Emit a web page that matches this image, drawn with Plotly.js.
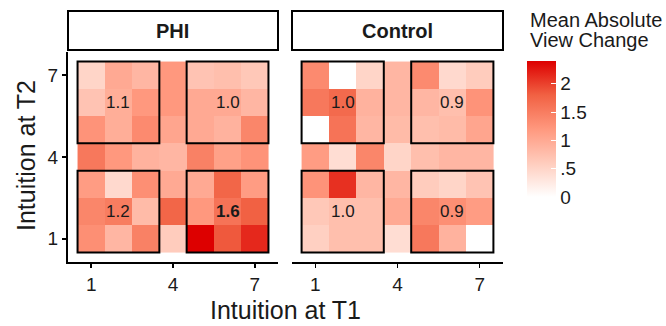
<!DOCTYPE html>
<html>
<head>
<meta charset="utf-8">
<script src="https://cdn.plot.ly/plotly-3.0.1.min.js"></script>
<style>html,body{margin:0;padding:0;background:#fff;}#chart{width:666px;height:326px;}</style>
</head>
<body>
<div id="chart"></div>
<script>
// Intuition levels
var t1Levels = [1, 2, 3, 4, 5, 6, 7];
var t2Levels = [7, 6, 5, 4, 3, 2, 1]; // rows listed top to bottom

// Mean absolute view change, rows = Intuition at T2 (7 -> 1), cols = Intuition at T1 (1 -> 7)
var phiValues = [
  [0.50, 1.00, 0.85, 1.20, 0.70, 0.75, 0.65],
  [0.70, 0.95, 1.20, 1.20, 1.00, 1.00, 0.85],
  [1.25, 0.95, 1.35, 1.05, 1.00, 0.90, 1.40],
  [1.55, 1.20, 0.90, 0.85, 1.45, 1.10, 1.25],
  [1.15, 0.45, 1.30, 1.00, 1.00, 1.75, 1.15],
  [1.40, 1.50, 0.80, 1.75, 1.20, 1.60, 1.80],
  [1.30, 0.85, 1.45, 0.60, 2.40, 1.85, 2.15]
];
var controlValues = [
  [1.35, 0.00, 0.50, 0.85, 1.35, 0.45, 0.60],
  [1.55, 1.70, 0.90, 0.85, 0.85, 0.75, 1.25],
  [0.00, 1.60, 0.85, 0.80, 0.75, 0.80, 1.05],
  [1.15, 0.40, 1.40, 0.50, 0.75, 0.85, 0.85],
  [1.25, 2.10, 0.85, 0.85, 0.60, 0.50, 0.70],
  [0.65, 0.75, 0.75, 1.00, 1.40, 1.30, 1.15],
  [0.55, 0.75, 0.75, 0.40, 1.55, 0.90, 0.00]
];

// Quadrant means (top-left, top-right, bottom-left, bottom-right)
var quadrantLabels = ["TL", "TR", "BL", "BR"];
var phiMeans = ["1.1", "1.0", "1.2", "1.6"];
var controlMeans = ["1.0", "0.9", "1.0", "0.9"];
var phiBold = [false, false, false, true];
var controlBold = [false, false, false, false];
var quadCenterX = [2, 6, 2, 6];
var quadCenterY = [6, 6, 2, 2];

var panelNames = ["PHI", "Control"];
var axisTicks = [1, 4, 7];
var cbTickVals = [0, 0.5, 1, 1.5, 2];
var cbTickText = ["0", ".5", "1", "1.5", "2"];

var W = 666, H = 326;
function px(x) { return x / W; }
function py(y) { return 1 - y / H; }

var FONT = "Liberation Sans, Arial, Helvetica, sans-serif";
var zmax = 2.4;
var colorscale = [
  [0, "rgb(255,255,255)"],
  [0.25, "rgb(255,204,189)"],
  [0.5, "rgb(255,152,126)"],
  [0.75, "rgb(241,97,67)"],
  [1, "rgb(221,0,0)"]
];

var traces = [
  {
    type: "heatmap", x: t1Levels, y: t2Levels, z: phiValues,
    xaxis: "x", yaxis: "y", zmin: 0, zmax: zmax, colorscale: colorscale,
    showscale: true, hoverinfo: "skip",
    colorbar: {
      x: px(527), xanchor: "left", y: py(129), yanchor: "middle",
      thickness: 29, thicknessmode: "pixels", len: 136, lenmode: "pixels",
      xpad: 0, ypad: 0, outlinewidth: 0,
      tickvals: cbTickVals, ticktext: cbTickText,
      ticks: "inside", ticklen: 5, tickcolor: "white", tickwidth: 1,
      tickfont: {family: FONT, size: 19, color: "#1a1a1a"}
    }
  },
  {
    type: "heatmap", x: t1Levels, y: t2Levels, z: controlValues,
    xaxis: "x2", yaxis: "y2", zmin: 0, zmax: zmax, colorscale: colorscale,
    showscale: false, hoverinfo: "skip"
  }
];

var axisBase = {
  range: [0.15, 7.85], tickvals: axisTicks, ticks: "outside", ticklen: 4,
  tickwidth: 1.5, tickcolor: "black", showline: true, linecolor: "black",
  linewidth: 2, showgrid: false, zeroline: false, fixedrange: true,
  tickfont: {family: FONT, size: 19, color: "#1a1a1a"}
};
function ax(extra) { return Object.assign({}, axisBase, extra); }

var shapes = [];
var annotations = [];

// strips
var stripX = [[68, 278], [292, 503]];
for (var i = 0; i < panelNames.length; i++) {
  shapes.push({type: "rect", xref: "paper", yref: "paper",
    x0: px(stripX[i][0]), x1: px(stripX[i][1]), y0: py(50), y1: py(11),
    line: {color: "black", width: 2}, fillcolor: "white", layer: "above"});
  annotations.push({xref: "paper", yref: "paper", x: px((stripX[i][0] + stripX[i][1]) / 2), y: py(30.5),
    text: "<b>" + panelNames[i] + "</b>", showarrow: false, xanchor: "center", yanchor: "middle",
    font: {family: FONT, size: 20, color: "#1a1a1a"}});
}

// quadrant boxes
var quadX = [[0.5, 3.5], [4.5, 7.5], [0.5, 3.5], [4.5, 7.5]];
var quadY = [[4.5, 7.5], [4.5, 7.5], [0.5, 3.5], [0.5, 3.5]];
var refs = [["x", "y"], ["x2", "y2"]];
var meansList = [phiMeans, controlMeans];
var boldList = [phiBold, controlBold];
for (var p = 0; p < 2; p++) {
  for (var q = 0; q < quadrantLabels.length; q++) {
    shapes.push({type: "rect", xref: refs[p][0], yref: refs[p][1],
      x0: quadX[q][0], x1: quadX[q][1], y0: quadY[q][0], y1: quadY[q][1],
      line: {color: "black", width: 2}, fillcolor: "rgba(0,0,0,0)", layer: "above"});
    var txt = meansList[p][q];
    annotations.push({xref: refs[p][0], yref: refs[p][1], x: quadCenterX[q], y: quadCenterY[q],
      text: boldList[p][q] ? "<b>" + txt + "</b>" : txt, showarrow: false,
      font: {family: FONT, size: 17, color: "#1a1a1a"}});
  }
}

// axis titles
annotations.push({xref: "paper", yref: "paper", x: px(285.5), y: py(310), text: "Intuition at T1",
  showarrow: false, xanchor: "center", yanchor: "middle", font: {family: FONT, size: 25, color: "#1a1a1a"}});
annotations.push({xref: "paper", yref: "paper", x: px(26), y: py(156), text: "Intuition at T2",
  showarrow: false, textangle: -90, xanchor: "center", yanchor: "middle", font: {family: FONT, size: 25, color: "#1a1a1a"}});

// colorbar title
annotations.push({xref: "paper", yref: "paper", x: px(528), y: py(20), text: "Mean Absolute",
  showarrow: false, xanchor: "left", yanchor: "middle", font: {family: FONT, size: 20, color: "#1a1a1a"}});
annotations.push({xref: "paper", yref: "paper", x: px(528), y: py(40), text: "View Change",
  showarrow: false, xanchor: "left", yanchor: "middle", font: {family: FONT, size: 20, color: "#1a1a1a"}});

var layout = {
  width: W, height: H,
  margin: {l: 0, r: 0, t: 0, b: 0, pad: 0},
  paper_bgcolor: "white", plot_bgcolor: "white",
  showlegend: false,
  xaxis: ax({domain: [px(68), px(278)], anchor: "y"}),
  xaxis2: ax({domain: [px(292), px(503)], anchor: "y2"}),
  yaxis: ax({domain: [py(262), py(52)], anchor: "x"}),
  yaxis2: ax({domain: [py(262), py(52)], anchor: "x2", showline: false, ticks: "", showticklabels: false}),
  shapes: shapes,
  annotations: annotations
};

Plotly.newPlot("chart", traces, layout, {staticPlot: true, displayModeBar: false});
</script>
</body>
</html>
